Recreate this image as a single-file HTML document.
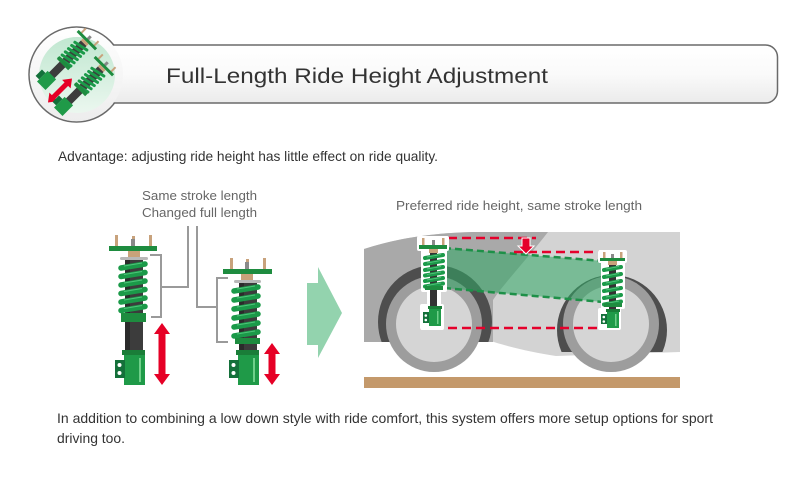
<!DOCTYPE html>
<html>
<head>
<meta charset="utf-8">
<style>
html,body{margin:0;padding:0;background:#fff;}
svg{display:block;}
</style>
</head>
<body>
<svg width="804" height="479" viewBox="0 0 804 479" xmlns="http://www.w3.org/2000/svg" xmlns:xlink="http://www.w3.org/1999/xlink">
<defs>
  <linearGradient id="hg" x1="0" y1="0" x2="0" y2="1">
    <stop offset="0" stop-color="#ffffff"/>
    <stop offset="0.5" stop-color="#fafafa"/>
    <stop offset="1" stop-color="#ebebeb"/>
  </linearGradient>
  <linearGradient id="cg" x1="0" y1="0" x2="0" y2="1">
    <stop offset="0" stop-color="#ffffff"/>
    <stop offset="1" stop-color="#ededed"/>
  </linearGradient>
  <linearGradient id="mg" x1="0" y1="0" x2="0" y2="1">
    <stop offset="0" stop-color="#c0e7d0"/>
    <stop offset="1" stop-color="#ebf7ef"/>
  </linearGradient>
  <clipPath id="fc"><rect x="364" y="232" width="316" height="110"/></clipPath>
  <clipPath id="rc"><rect x="364" y="232" width="316" height="120"/></clipPath>
  <g id="ms">
    <line x1="-9" y1="-37" x2="-9" y2="-30" stroke="#c8a27c" stroke-width="2"/>
    <line x1="9" y1="-37" x2="9" y2="-30" stroke="#c8a27c" stroke-width="2"/>
    <rect x="-1.5" y="-35" width="3" height="5" fill="#888"/>
    <rect x="-13" y="-31" width="26" height="3" fill="#1e8c3f"/>
    <rect x="-4" y="-28" width="8" height="3" fill="#c9a27a"/>
    <rect x="-4" y="-25" width="8" height="47" fill="#3c3c3c"/>
    <path d="M-7,-19.5 L7,-22.5 M-7,-15 L7,-18 M-7,-10.5 L7,-13.5 M-7,-6 L7,-9 M-7,-1.5 L7,-4.5 M-7,3 L7,0" stroke="#1b9a49" stroke-width="3" stroke-linecap="round" fill="none"/>
    <rect x="-8" y="1" width="16" height="4" fill="#1e8c3f"/>
    <rect x="-6" y="20" width="12" height="15" fill="#1f9a48"/>
    <rect x="-11" y="23" width="5" height="9" fill="#13703a"/>
  </g>
</defs>

<!-- Header -->
<circle cx="76.5" cy="74.5" r="47.5" fill="url(#cg)" stroke="#6a6a6a" stroke-width="1.5"/>
<rect x="70" y="45" width="707.5" height="58" rx="12" fill="url(#hg)" stroke="#6a6a6a" stroke-width="1.5"/>
<circle cx="76.5" cy="74.5" r="46.6" fill="url(#cg)"/>
<circle cx="77" cy="75" r="38" fill="url(#mg)"/>
<use xlink:href="#ms" href="#ms" transform="translate(66,61) rotate(45)"/>
<path d="M0,-17 L6,-9 L2.5,-9 L2.5,9 L6,9 L0,17 L-6,9 L-2.5,9 L-2.5,-9 L-6,-9 Z" fill="#e60026" transform="translate(60,90.5) rotate(45)"/>
<use xlink:href="#ms" href="#ms" transform="translate(83,87) rotate(45)"/>

<text x="166" y="83" font-family="Liberation Sans, sans-serif" font-size="21" fill="#333" textLength="382" lengthAdjust="spacingAndGlyphs">Full-Length Ride Height Adjustment</text>

<text x="58" y="161" font-family="Liberation Sans, sans-serif" font-size="14" fill="#333" textLength="380" lengthAdjust="spacingAndGlyphs">Advantage: adjusting ride height has little effect on ride quality.</text>

<!-- Labels -->
<text x="142" y="200" font-family="Liberation Sans, sans-serif" font-size="12.5" fill="#666" textLength="115" lengthAdjust="spacingAndGlyphs">Same stroke length</text>
<text x="142" y="217" font-family="Liberation Sans, sans-serif" font-size="12.5" fill="#666" textLength="115" lengthAdjust="spacingAndGlyphs">Changed full length</text>
<text x="396" y="210" font-family="Liberation Sans, sans-serif" font-size="12.5" fill="#666" textLength="246" lengthAdjust="spacingAndGlyphs">Preferred ride height, same stroke length</text>

<!-- Brackets -->
<path d="M150,255 L161,255 L161,317 L151,317 M161,287 L188,287 L188,226" stroke="#9a9a9a" stroke-width="2" fill="none"/>
<path d="M228,278 L217,278 L217,342 L228,342 M217,307 L197,307 L197,226" stroke="#9a9a9a" stroke-width="2" fill="none"/>

<!-- Strut 1 -->
<rect x="115" y="235" width="3" height="11" fill="#c8a27c"/>
<rect x="149" y="235" width="3" height="11" fill="#c8a27c"/>
<rect x="131" y="239" width="4" height="7" fill="#8a8a8a"/>
<rect x="132" y="236" width="3" height="3" fill="#c8a27c"/>
<rect x="109" y="246" width="48" height="5" fill="#1e8c3f"/>
<rect x="128" y="251" width="12" height="6" fill="#c9a27a"/>
<rect x="120" y="257" width="28" height="3" rx="1.5" fill="#b8b8b8"/>
<rect x="125" y="260" width="18" height="92" fill="#3c3c3c"/>
<rect x="125" y="260" width="5" height="92" fill="#2b2b2b"/>
<path d="M121,268 L145,264 M121,276.5 L145,272.5 M121,285 L145,281 M121,293.5 L145,289.5 M121,302 L145,298 M121,310.5 L145,306.5" stroke="#1b9a49" stroke-width="5.5" stroke-linecap="round" fill="none"/>
<path d="M124,266 L142,263 M124,274.5 L142,271.5 M124,283 L142,280 M124,291.5 L142,288.5 M124,300 L142,297 M124,308.5 L142,305.5" stroke="#4fc47a" stroke-width="1" fill="none"/>
<rect x="121" y="313" width="25" height="9" fill="#1e8c3f"/>
<rect x="122" y="350" width="23" height="5" fill="#1a7d38"/>
<rect x="124" y="355" width="21" height="30" fill="#1f9a48"/>
<rect x="139" y="358" width="2" height="24" fill="#6fd08a"/>
<rect x="115" y="360" width="10" height="18" fill="#14703a"/>
<circle cx="119.5" cy="365" r="2" fill="#fff"/>
<circle cx="119.5" cy="373" r="2" fill="#fff"/>
<path d="M162,323 L170,334 L165.5,334 L165.5,374 L170,374 L162,385 L154,374 L158.5,374 L158.5,334 L154,334 Z" fill="#e60026"/>

<!-- Strut 2 -->
<rect x="230" y="258" width="3" height="11" fill="#c8a27c"/>
<rect x="263" y="258" width="3" height="11" fill="#c8a27c"/>
<rect x="245" y="262" width="4" height="7" fill="#8a8a8a"/>
<rect x="246" y="259" width="3" height="3" fill="#c8a27c"/>
<rect x="223" y="269" width="49" height="5" fill="#1e8c3f"/>
<rect x="241" y="274" width="12" height="6" fill="#c9a27a"/>
<rect x="234" y="280" width="27" height="3" rx="1.5" fill="#b8b8b8"/>
<rect x="239" y="283" width="18" height="69" fill="#3c3c3c"/>
<rect x="239" y="283" width="5" height="69" fill="#2b2b2b"/>
<path d="M234,291 L258,287 M234,300 L258,296 M234,309 L258,305 M234,318 L258,314 M234,327 L258,323 M234,336 L258,332" stroke="#1b9a49" stroke-width="5.5" stroke-linecap="round" fill="none"/>
<path d="M237,289 L255,286 M237,298 L255,295 M237,307 L255,304 M237,316 L255,313 M237,325 L255,322 M237,334 L255,331" stroke="#4fc47a" stroke-width="1" fill="none"/>
<rect x="235" y="338" width="25" height="6" fill="#1e8c3f"/>
<rect x="236" y="350" width="23" height="5" fill="#1a7d38"/>
<rect x="238" y="355" width="21" height="30" fill="#1f9a48"/>
<rect x="253" y="358" width="2" height="24" fill="#6fd08a"/>
<rect x="229" y="360" width="10" height="18" fill="#14703a"/>
<circle cx="233.5" cy="365" r="2" fill="#fff"/>
<circle cx="233.5" cy="373" r="2" fill="#fff"/>
<path d="M272,343 L280,354 L275.5,354 L275.5,374 L280,374 L272,385 L264,374 L268.5,374 L268.5,354 L264,354 Z" fill="#e60026"/>

<!-- Big green arrow -->
<polygon points="307,283 318,283 318,267 342,313 318,358 318,345 307,345" fill="#93d3ae"/>

<!-- Car -->
<path d="M364,249 C395,239 430,233 472,232 L680,232 L680,352 L556,356 C530,352 505,346 488,340 L364,342 Z" fill="#d3d3d3"/>
<path d="M364,249 C395,239 430,233 472,232 L548,232 C528,258 505,282 493,300 L493,342 L364,342 Z" fill="#a9a9a9"/>
<g clip-path="url(#fc)"><circle cx="435" cy="322" r="57" fill="#4e4e4e"/></g>
<g clip-path="url(#rc)"><circle cx="612" cy="330" r="55" fill="#4e4e4e"/></g>
<circle cx="434" cy="324" r="48" fill="#9d9d9d"/>
<circle cx="434" cy="324" r="38" fill="#d5d5d5"/>
<circle cx="611" cy="324" r="48" fill="#9d9d9d"/>
<circle cx="611" cy="324" r="38" fill="#d5d5d5"/>
<rect x="364" y="377" width="316" height="11" fill="#c4996b"/>

<!-- Green band -->
<polygon points="444,248 603,261 603,302 444,288" fill="#30a865" fill-opacity="0.55"/>
<line x1="444" y1="248" x2="603" y2="261" stroke="#1e9048" stroke-width="2.5" stroke-dasharray="7,4"/>
<line x1="444" y1="288" x2="603" y2="302" stroke="#1e9048" stroke-width="2.5" stroke-dasharray="7,4"/>

<!-- Red dashed lines -->
<line x1="420" y1="238" x2="536" y2="238" stroke="#e5002b" stroke-width="2.5" stroke-dasharray="9,5"/>
<line x1="514" y1="252" x2="617" y2="252" stroke="#e5002b" stroke-width="2.5" stroke-dasharray="9,5"/>
<line x1="420" y1="328" x2="620" y2="328" stroke="#e5002b" stroke-width="2.5" stroke-dasharray="9,5"/>
<path d="M522,238 L530,238 L530,246 L534,246 L526,254 L518,246 L522,246 Z" fill="#e5002b" stroke="#fff" stroke-width="1"/>

<!-- Front car strut -->
<g fill="#fff">
  <rect x="417" y="236" width="32" height="15" rx="2"/>
  <rect x="421" y="249" width="26" height="43" rx="2"/>
  <rect x="427" y="289" width="14" height="20"/>
  <rect x="420" y="304" width="24" height="26" rx="2"/>
</g>
<rect x="422" y="238" width="2.5" height="8" fill="#c8a27c"/>
<rect x="442" y="238" width="2.5" height="8" fill="#c8a27c"/>
<rect x="432" y="240" width="3" height="6" fill="#8a8a8a"/>
<rect x="419" y="245" width="28" height="4" fill="#1e8c3f"/>
<rect x="429" y="249" width="9" height="4" fill="#c9a27a"/>
<rect x="430" y="253" width="7" height="55" fill="#333"/>
<path d="M425,258 L443,255 M425,264 L443,261 M425,270 L443,267 M425,275.5 L443,272.5 M425,281 L443,278 M425,286.5 L443,283.5" stroke="#1b9a49" stroke-width="4" stroke-linecap="round" fill="none"/>
<path d="M427,257 L441,254.5 M427,263 L441,260.5 M427,269 L441,266.5 M427,274.5 L441,272 M427,280 L441,277.5 M427,285.5 L441,283" stroke="#5cc884" stroke-width="0.8" fill="none"/>
<rect x="425" y="286" width="18" height="4" fill="#1e8c3f"/>
<rect x="428" y="306" width="14" height="3" fill="#1a7d38"/>
<rect x="429" y="309" width="12" height="17" fill="#1f9a48"/>
<rect x="437" y="311" width="1.5" height="13" fill="#6fd08a"/>
<rect x="423" y="312" width="6" height="11" fill="#14703a"/>
<circle cx="425.8" cy="315.5" r="1.3" fill="#fff"/>
<circle cx="425.8" cy="320" r="1.3" fill="#fff"/>

<!-- Rear car strut -->
<g fill="#fff">
  <rect x="598" y="250" width="29" height="13" rx="2"/>
  <rect x="601" y="261" width="24" height="48" rx="2"/>
  <rect x="606" y="307" width="14" height="23"/>
  <rect x="598" y="308" width="23" height="22" rx="2"/>
</g>
<rect x="603" y="252" width="2.5" height="7" fill="#c8a27c"/>
<rect x="620" y="252" width="2.5" height="7" fill="#c8a27c"/>
<rect x="611" y="254" width="3" height="5" fill="#8a8a8a"/>
<rect x="600" y="258" width="25" height="3" fill="#1e8c3f"/>
<rect x="608" y="261" width="9" height="4" fill="#c9a27a"/>
<rect x="609" y="265" width="7" height="46" fill="#333"/>
<path d="M604,270 L621,267 M604,277 L621,274 M604,284 L621,281 M604,291 L621,288 M604,298 L621,295 M604,304.5 L621,301.5" stroke="#1b9a49" stroke-width="4" stroke-linecap="round" fill="none"/>
<path d="M606,269 L619,266.5 M606,276 L619,273.5 M606,283 L619,280.5 M606,290 L619,287.5 M606,297 L619,294.5 M606,303.5 L619,301" stroke="#5cc884" stroke-width="0.8" fill="none"/>
<rect x="604" y="303" width="18" height="4" fill="#1e8c3f"/>
<rect x="606" y="309" width="14" height="3" fill="#1a7d38"/>
<rect x="607" y="312" width="12" height="16" fill="#1f9a48"/>
<rect x="615" y="314" width="1.5" height="12" fill="#6fd08a"/>
<rect x="601" y="314" width="6" height="10" fill="#14703a"/>
<circle cx="603.8" cy="317" r="1.3" fill="#fff"/>
<circle cx="603.8" cy="321.5" r="1.3" fill="#fff"/>

<!-- Bottom text -->
<text x="57" y="423" font-family="Liberation Sans, sans-serif" font-size="14" fill="#333" textLength="656" lengthAdjust="spacingAndGlyphs">In addition to combining a low down style with ride comfort, this system offers more setup options for sport</text>
<text x="57" y="443" font-family="Liberation Sans, sans-serif" font-size="14" fill="#333" textLength="68" lengthAdjust="spacingAndGlyphs">driving too.</text>
</svg>
</body>
</html>
